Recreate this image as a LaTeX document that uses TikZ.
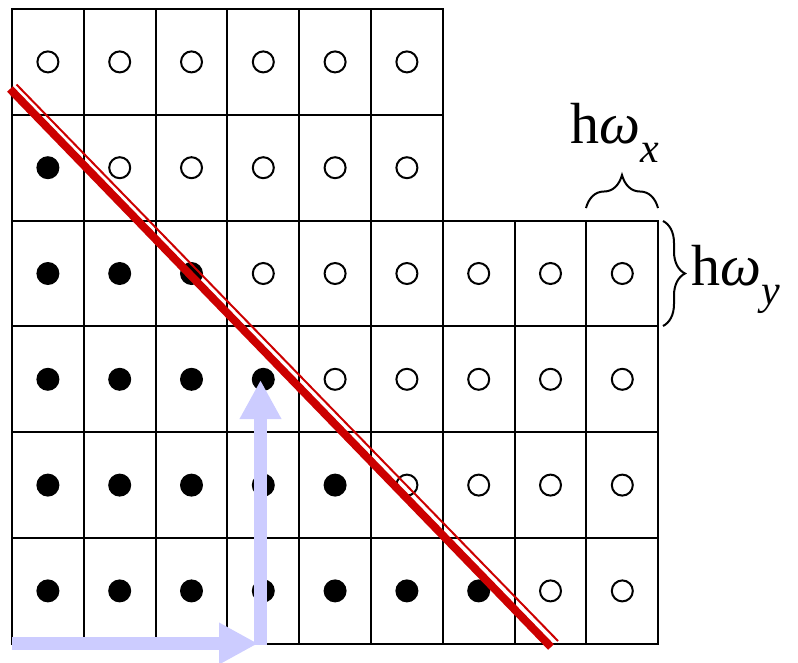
\documentclass[tikz,border=0pt]{standalone}
\usepackage{fontspec}
\setmainfont{Liberation Serif}
\usetikzlibrary{arrows.meta,decorations.pathreplacing}
\definecolor{redline}{RGB}{204,0,0}
\definecolor{lav}{RGB}{204,204,255}
\begin{document}
\begin{tikzpicture}[x=1pt,y=-1pt,
  gridline/.style={line width=2pt,draw=black},
  opendot/.style={circle,draw=black,line width=2pt,fill=white,minimum size=21pt,inner sep=0pt},
  fulldot/.style={circle,fill=black,minimum size=23pt,inner sep=0pt},
  bluearrow/.style={draw=lav,line width=13pt,-{Triangle[width=39pt,length=39pt]}},
  bracestyle/.style={line width=2pt,decorate,decoration={brace,amplitude=#1}},
  symlabel/.style={anchor=base west,inner sep=0pt,font=\fontsize{58}{58}\selectfont}]
\useasboundingbox (0,0) rectangle (798,662);
\def\cw{71.8}
\def\ch{105.8}
% grid cells
\foreach \r/\n in {0/6,1/6,2/9,3/9,4/9,5/9}{
  \foreach \c in {1,...,\n}{
    \draw[gridline] ({12+(\c-1)*\cw},{9+\r*\ch}) rectangle ++(\cw,\ch);
  }
}
% dots
\foreach \r/\n/\f in {0/6/0,1/6/1,2/9/3,3/9/4,4/9/5,5/9/7}{
  \foreach \c in {1,...,\n}{
    \ifnum\c>\f
      \node[opendot] (d-\r-\c) at ({12+(\c-0.5)*\cw},{9+(\r+0.5)*\ch}) {};
    \else
      \node[fulldot] (d-\r-\c) at ({12+(\c-0.5)*\cw},{9+(\r+0.5)*\ch}) {};
    \fi
  }
}
% red line
\coordinate (ra) at (10,89);
\coordinate (rb) at (551,647);
\coordinate (sa) at (16.5,84.5);
\coordinate (sb) at (558,641);
\draw[redline,line width=8pt] (ra) -- (rb);
\draw[redline,line width=2pt] (sa) -- (sb);
% blue arrows
\coordinate (o1) at (12,643.5);
\coordinate (e1) at (258,643.5);
\coordinate (o2) at (260.5,645);
\coordinate (e2) at (260.5,380);
\draw[bluearrow] (o1) -- (e1);
\draw[bluearrow] (o2) -- (e2);
% braces
\coordinate (bx1) at (586,208);
\coordinate (bx2) at (658,208);
\coordinate (by1) at (663,221);
\coordinate (by2) at (663,326);
\draw[bracestyle=33pt] (bx1) -- (bx2);
\draw[bracestyle=22pt] (by1) -- (by2);
% labels
\node[symlabel] (hx) at (570,143) {h\textit{ω}\raisebox{-19pt}{\fontsize{42}{42}\selectfont\itshape x}};
\node[symlabel] (hy) at (691,285) {h\textit{ω}\raisebox{-19pt}{\fontsize{42}{42}\selectfont\itshape y}};
\end{tikzpicture}
\end{document}
